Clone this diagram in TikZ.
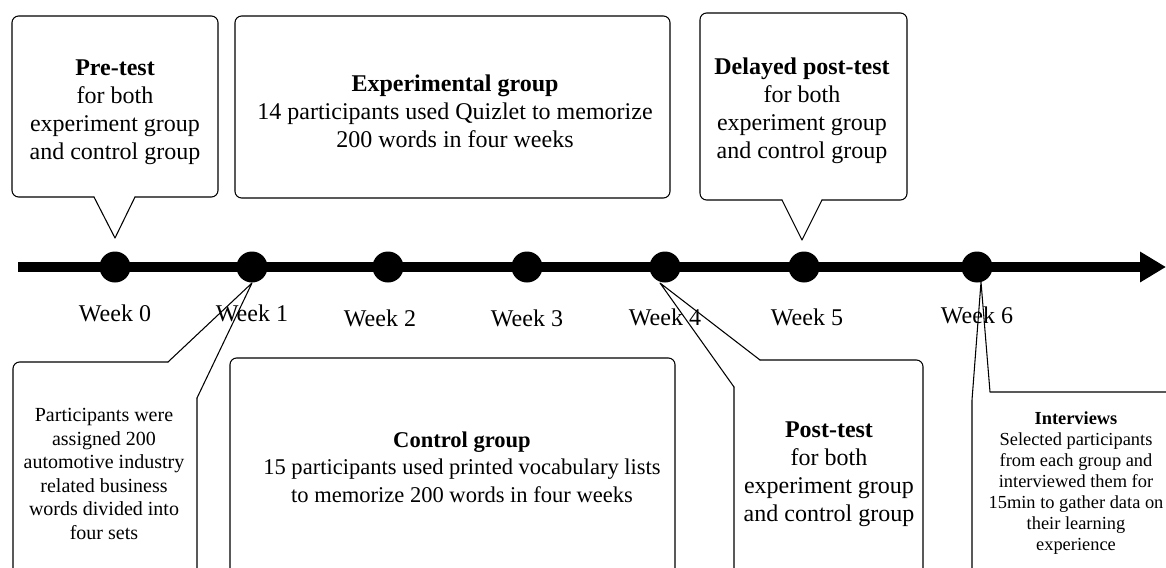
\documentclass[tikz,border=0pt]{standalone}
\usepackage{fontspec}
\setmainfont{Liberation Serif}
\usetikzlibrary{arrows.meta}
\tikzset{
  vt axis/.style={draw=black, line width=7.5pt, -{Triangle[length=19.5pt,width=21.75pt]}},
  vt dot/.style={circle, fill=black, minimum size=23.25pt, inner sep=0pt},
  vt week/.style={font=\fontsize{18}{21}\selectfont, inner sep=0pt},
  vt box/.style={draw=black, line width=0.8pt, line join=round, line cap=round},
  vt rounded/.style={vt box, rounded corners=5pt},
  vt text/.style={align=center, inner sep=0pt, font=\fontsize{18}{21}\selectfont},
  vt text mid/.style={vt text, font=\fontsize{16.9}{20.6}\selectfont},
  vt text small/.style={vt text, font=\fontsize{15}{17.6}\selectfont},
  vt text tiny/.style={vt text, font=\fontsize{13.8}{15.8}\selectfont},
}

\begin{document}
\begin{tikzpicture}[x=0.75pt,y=-0.75pt]
  \useasboundingbox (0,0) rectangle (1166,567);
  \clip (0,0) rectangle (1166,567);

  % timeline
  \coordinate (axisStart) at (18,267);
  \coordinate (axisEnd) at (1166,267);
  \draw[vt axis] (axisStart) -- (axisEnd);
  \foreach \i/\x/\lx/\ly in {0/115/115/313, 1/252/252/313, 2/388/380/318, 3/527/527/318,
                             4/665/665/317, 5/804/807/317, 6/977/977/315}{
    \node[vt dot] (w\i) at (\x,267) {};
    \node[vt week] (lab\i) at (\lx,\ly) {Week \i};
  }

  % callouts above the line
  \coordinate (preTip) at (115,238);
  \draw[vt rounded] (135,197) -- (218,197) -- (218,16) -- (12,16) -- (12,197) -- (94,197);
  \draw[vt box] (94,197) -- (preTip) -- (135,197);
  \node[vt text] (preTxt) at (115,112) {\textbf{Pre-test}\\for both\\experiment group\\and control group};

  \draw[vt rounded] (235,16) rectangle (670,198);
  \node[vt text] (expTxt) at (455,111) {\textbf{Experimental group}\\14 participants used Quizlet to memorize\\200 words in four weeks};

  \coordinate (delTip) at (802,240);
  \draw[vt rounded] (822,200) -- (907,200) -- (907,13) -- (700,13) -- (700,200) -- (782,200);
  \draw[vt box] (782,200) -- (delTip) -- (822,200);
  \node[vt text] (delTxt) at (802,111) {\textbf{Delayed post-test}\\for both\\experiment group\\and control group};

  % callouts below the line
  \coordinate (assignTip) at (252,283);
  \draw[vt rounded] (197,398) -- (197,590) -- (13,590) -- (13,362) -- (168,362);
  \draw[vt box] (168,362) -- (assignTip) -- (197,398);
  \node[vt text small] (assignTxt) at (104,474) {Participants were\\assigned 200\\automotive industry\\related business\\words divided into\\four sets};

  \draw[vt rounded] (230,358) rectangle (675,590);
  \node[vt text mid] (ctrlTxt) at (462,467) {\textbf{Control group}\\15 participants used printed vocabulary lists\\to memorize 200 words in four weeks};

  \coordinate (postTip) at (660,283);
  \draw[vt rounded] (760,360) -- (923,360) -- (923,590) -- (734,590) -- (734,387);
  \draw[vt box] (734,387) -- (postTip) -- (760,360);
  \node[vt text] (postTxt) at (829,474) {\textbf{Post-test}\\for both\\experiment group\\and control group};

  \coordinate (intTip) at (981,282);
  \draw[vt box] (972,590) -- (972,400) -- (intTip) -- (990,392) -- (1180,392);
  \node[vt text tiny] (intTxt) at (1076,483) {\textbf{Interviews}\\Selected participants\\from each group and\\interviewed them for\\15min to gather data on\\their learning\\experience};
\end{tikzpicture}
\end{document}
